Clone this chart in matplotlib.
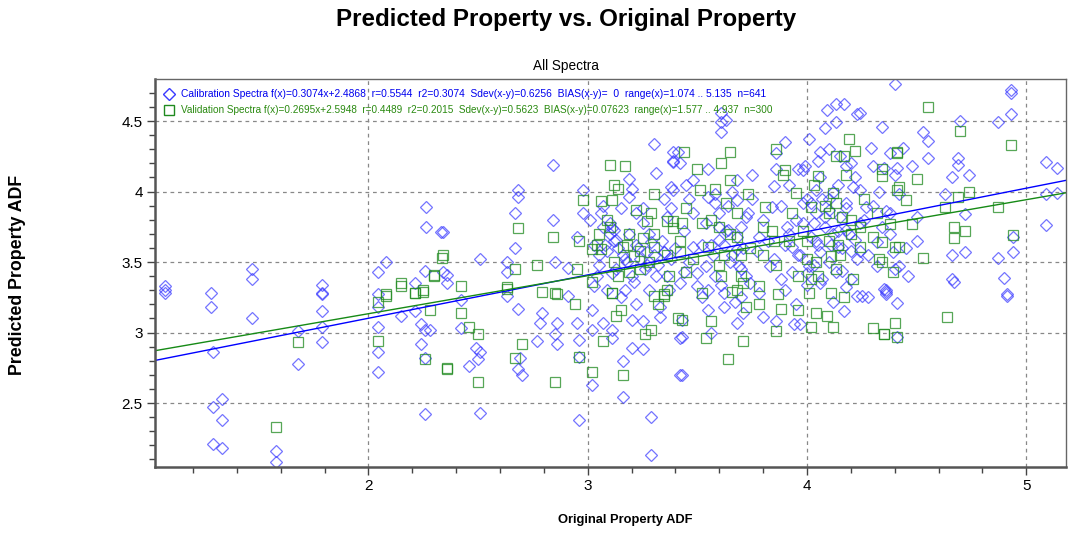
import matplotlib
matplotlib.use("Agg")
import matplotlib.pyplot as plt
from matplotlib.ticker import MultipleLocator

plt.rcParams['font.family'] = ['Liberation Sans', 'DejaVu Sans']

# fit lines as printed in the legend
cal_slope, cal_icept = 0.3074, 2.4868
val_slope, val_icept = 0.2695, 2.5948

# calibration spectra
cal_x = [1.07, 1.07, 1.07, 1.28, 1.28, 1.47, 1.47, 1.47, 1.29, 1.33, 1.29, 1.33, 1.29, 1.33,
         1.58, 1.58, 1.68, 1.68, 1.79, 1.79, 1.79, 1.79, 1.79, 1.79, 2.045, 2.045, 2.045, 2.045,
         2.045, 2.045, 2.081, 2.15, 2.21, 2.21, 2.24, 2.24, 2.26, 2.26, 2.26, 2.26, 2.263, 2.263,
         2.28, 2.331, 2.34, 2.36, 2.34, 2.36, 2.42, 2.42, 2.46, 2.49, 2.50, 2.51, 2.51, 2.51,
         2.63, 2.63, 2.63, 2.67, 2.67, 2.68, 2.68, 2.68, 2.68, 2.69, 2.70, 2.77, 2.78, 2.79,
         2.84, 2.84, 2.85, 2.85, 2.86, 2.86, 2.91, 2.91, 2.95, 2.95, 2.96, 2.96, 2.96, 2.98,
         2.98, 3.02, 3.02, 3.02, 3.06, 3.07, 3.10, 3.11, 3.11, 3.11, 3.16, 3.16, 3.19, 3.19,
         3.20, 3.20, 3.20, 3.25, 3.25, 3.29, 3.29, 3.30, 3.31, 3.33, 3.35, 3.35, 3.36, 3.37,
         3.38, 3.39, 3.39, 3.39, 3.39, 3.41, 3.42, 3.42, 3.42, 3.43, 3.43, 3.43, 3.44, 3.48,
         3.48, 3.50, 3.54, 3.54, 3.55, 3.55, 3.55, 3.56, 3.60, 3.61, 3.61, 3.61, 3.61, 3.63,
         3.64, 3.68, 3.68, 3.68, 3.68, 3.69, 3.71, 3.73, 3.78, 3.78, 3.80, 3.83, 3.84, 3.85,
         3.86, 3.86, 3.86, 3.90, 3.90, 3.91, 3.93, 3.93, 3.94, 3.96, 3.97, 3.98, 4.00, 4.01,
         4.01, 4.03, 4.04, 4.06, 4.06, 4.07, 4.08, 4.09, 4.10, 4.13, 4.13, 4.13, 4.14, 4.17,
         4.17, 4.18, 4.18, 4.18, 4.21, 4.23, 4.23, 4.24, 4.24, 4.24, 4.25, 4.27, 4.29, 4.30,
         4.32, 4.33, 4.34, 4.34, 4.35, 4.35, 4.36, 4.36, 4.36, 4.38, 4.38, 4.39, 4.40, 4.40,
         4.40, 4.41, 4.41, 4.41, 4.42, 4.42, 4.44, 4.45, 4.46, 4.48, 4.50, 4.50, 4.53, 4.55,
         4.55, 4.63, 4.66, 4.66, 4.66, 4.67, 4.69, 4.69, 4.70, 4.72, 4.72, 4.74, 4.87, 4.87,
         4.90, 4.91, 4.91, 4.93, 4.93, 4.93, 4.94, 4.94, 5.09, 5.09, 5.09, 5.14, 5.14,
         # dense middle cloud
         3.10, 3.12, 3.14, 3.16, 3.18, 3.13, 3.20, 3.22, 3.24, 3.26, 3.28, 3.30, 3.32, 3.34,
         3.36, 3.38, 3.40, 3.42, 3.44, 3.46, 3.48, 3.50, 3.52, 3.05, 3.08, 3.04, 3.09, 3.15,
         3.22, 3.28, 3.33, 3.38, 3.46, 3.52, 3.57, 3.60, 3.62, 3.65, 3.70, 3.72, 3.75, 3.77,
         3.80, 3.82, 3.85, 3.88, 3.90, 3.92, 3.95, 3.97, 4.00, 4.02, 4.04, 4.05, 4.06, 4.08,
         4.10, 4.12, 4.14, 4.15, 4.16, 4.18, 4.20, 4.22, 4.26, 4.28, 4.30, 4.32, 4.36, 4.38,
         4.05, 4.10, 3.98, 3.92, 3.75, 3.66, 3.58, 3.45, 3.35, 3.25, 3.70, 3.88, 3.95, 4.12,
         4.20, 4.28, 3.62, 3.55,
         3.01, 3.03, 3.05, 3.07, 3.09, 3.11, 3.13, 3.15, 3.17, 3.19, 3.21, 3.23, 3.25, 3.27,
         3.29, 3.31, 3.03, 3.07, 3.12, 3.17, 3.22, 3.27,
         3.56, 3.58, 3.60, 3.62, 3.64, 3.66, 3.68, 3.70, 3.72, 3.74, 3.58, 3.63, 3.67, 3.71,
         3.96, 3.98, 4.00, 4.02, 4.04, 4.06, 4.08, 4.10, 4.12, 4.14, 4.16, 4.18, 4.20, 4.22,
         4.24, 3.99, 4.03, 4.07, 4.11, 4.15, 4.19, 4.23]
cal_y = [3.33, 3.28, 3.30, 3.28, 3.18, 3.45, 3.38, 3.10, 2.86, 2.53, 2.47, 2.38, 2.21, 2.18,
         2.16, 2.08, 3.01, 2.78, 3.34, 3.28, 3.27, 3.15, 3.04, 2.93, 3.43, 3.27, 3.18, 3.04,
         2.86, 2.72, 3.50, 3.12, 3.35, 3.15, 3.06, 2.92, 3.44, 2.82, 3.02, 2.42, 3.894, 3.75,
         3.02, 3.71, 3.43, 3.35, 3.71, 3.41, 3.23, 3.03, 2.76, 2.89, 2.81, 2.86, 2.43, 3.52,
         3.50, 3.43, 3.26, 3.85, 3.60, 4.01, 3.96, 3.17, 2.74, 2.82, 2.70, 2.94, 3.07, 3.14,
         4.19, 3.80, 3.50, 2.99, 3.07, 2.92, 3.46, 3.26, 3.68, 3.07, 2.95, 2.83, 2.38, 4.01,
         3.85, 3.16, 3.02, 2.63, 3.85, 3.07, 3.78, 3.74, 3.02, 2.96, 2.80, 2.54, 4.09, 3.96,
         4.02, 3.09, 2.89, 3.08, 2.88, 2.40, 2.13, 4.34, 4.13, 3.11, 3.57, 3.57, 3.82, 3.30,
         4.03, 4.21, 4.01, 4.28, 4.22, 4.28, 4.20, 2.70, 2.96, 2.70, 2.97, 3.09, 3.43, 3.61,
         4.08, 3.33, 3.78, 3.47, 3.16, 4.16, 3.96, 3.00, 3.66, 3.34, 4.56, 4.49, 4.42, 4.51,
         3.73, 3.07, 4.08, 3.94, 3.59, 3.47, 3.14, 3.85, 3.28, 3.68, 3.11, 3.47, 3.89, 4.04,
         4.16, 4.27, 3.08, 3.30, 4.35, 3.75, 3.43, 3.61, 3.06, 4.16, 3.06, 3.92, 3.34, 3.47,
         4.37, 3.78, 4.01, 4.28, 3.57, 3.38, 4.45, 4.58, 3.87, 3.43, 4.62, 4.49, 3.61, 4.62,
         3.15, 3.32, 4.18, 3.73, 4.03, 4.55, 3.26, 4.56, 4.01, 3.58, 3.26, 3.89, 4.31, 4.18,
         3.47, 4.00, 3.75, 4.46, 4.17, 3.31, 3.29, 3.27, 3.30, 3.85, 4.27, 3.57, 4.12, 3.45,
         4.76, 4.17, 3.21, 2.97, 3.47, 3.98, 4.31, 3.60, 3.40, 4.18, 3.82, 3.65, 4.42, 4.36,
         4.24, 3.98, 4.10, 3.55, 3.38, 3.36, 4.19, 4.24, 4.50, 3.84, 3.57, 4.12, 4.49, 3.53,
         3.39, 3.27, 3.26, 4.70, 4.55, 4.72, 3.57, 3.68, 4.21, 3.98, 3.76, 4.17, 3.99,
         # dense middle cloud
         3.70, 3.65, 3.60, 3.55, 3.50, 3.45, 3.40, 3.62, 3.52, 3.45, 3.70, 3.55, 3.48, 3.65,
         3.40, 3.52, 3.60, 3.35, 3.72, 3.50, 3.85, 3.42, 3.62, 3.55, 3.62, 3.40, 3.30, 3.25,
         3.20, 3.30, 3.18, 3.88, 3.95, 3.25, 3.55, 3.85, 3.62, 3.50, 3.75, 3.40, 3.95, 3.58,
         3.80, 3.65, 3.52, 3.90, 3.62, 3.70, 3.80, 3.55, 3.95, 3.68, 3.85, 3.62, 4.10, 3.75,
         3.95, 3.70, 4.05, 3.82, 3.60, 3.92, 4.20, 3.66, 3.80, 3.55, 3.90, 3.64, 3.86, 3.70,
         4.22, 4.30, 4.15, 4.05, 4.12, 4.00, 3.92, 4.05, 3.95, 3.88, 3.25, 3.38, 3.20, 3.22,
         3.38, 3.25, 3.18, 3.30,
         3.80, 3.62, 3.48, 3.75, 3.58, 3.42, 3.66, 3.88, 3.52, 3.70, 3.36, 3.60, 3.78, 3.48,
         3.64, 3.40, 3.33, 3.90, 3.73, 3.30, 3.85, 3.57,
         3.62, 3.40, 3.75, 3.28, 3.90, 3.55, 3.68, 3.45, 3.82, 3.35, 3.98, 3.72, 3.22, 3.60,
         3.55, 3.78, 3.42, 3.92, 3.65, 3.35, 3.82, 3.50, 4.00, 3.72, 3.44, 3.88, 3.58, 4.10,
         3.78, 4.18, 3.48, 3.95, 3.62, 4.25, 3.70, 3.52]

# validation spectra
val_x = [1.58, 1.68, 2.045, 2.045, 2.08, 2.08, 2.15, 2.15, 2.21, 2.21, 2.25, 2.25, 2.26,
         2.28, 2.30, 2.30, 2.336, 2.34, 2.36, 2.36, 2.42, 2.42, 2.46, 2.50, 2.50, 2.63, 2.63,
         2.67, 2.67, 2.68, 2.70, 2.77, 2.79, 2.84, 2.85, 2.85, 2.86, 2.94, 2.95, 2.96, 2.96,
         2.98, 3.02, 3.02, 3.02, 3.06, 3.06, 3.07, 3.10, 3.10, 3.11, 3.11, 3.11, 3.12, 3.13,
         3.14, 3.15, 3.16, 3.16, 3.17, 3.19, 3.21, 3.22, 3.25, 3.26, 3.27, 3.29, 3.30, 3.30,
         3.30, 3.32, 3.35, 3.35, 3.36, 3.36, 3.37, 3.39, 3.39, 3.41, 3.42, 3.43, 3.43, 3.44,
         3.45, 3.50, 3.51, 3.52, 3.52, 3.54, 3.55, 3.56, 3.60, 3.61, 3.61, 3.64, 3.65, 3.65,
         3.66, 3.68, 3.71, 3.71, 3.72, 3.73, 3.78, 3.78, 3.81, 3.84, 3.86, 3.86, 3.87, 3.88,
         3.89, 3.93, 3.95, 3.96, 4.00, 4.01, 4.02, 4.02, 4.02, 4.04, 4.05, 4.09, 4.11, 4.11,
         4.12, 4.12, 4.13, 4.13, 4.16, 4.17, 4.17, 4.19, 4.21, 4.22, 4.24, 4.24, 4.30, 4.30,
         4.33, 4.34, 4.34, 4.34, 4.34, 4.35, 4.35, 4.38, 4.39, 4.40, 4.40, 4.41, 4.41, 4.41,
         4.41, 4.42, 4.42, 4.45, 4.48, 4.50, 4.53, 4.55, 4.63, 4.64, 4.67, 4.67, 4.69, 4.70,
         4.72, 4.74, 4.87, 4.93, 4.94,
         3.05, 3.12, 3.18, 3.24, 3.30, 3.36, 3.42, 3.48, 3.56, 3.62, 3.68, 3.74, 3.80, 3.86,
         3.92, 3.98, 4.04, 4.08, 4.14, 4.20, 4.26, 4.32, 3.90, 3.58, 3.45, 4.18, 3.70, 3.96,
         4.10, 3.28,
         3.04, 3.09, 3.14, 3.19, 3.24, 3.29, 3.60, 3.65, 3.70, 3.63, 3.68, 4.00, 4.05, 4.10,
         4.15, 4.20, 4.03, 4.13, 3.80, 3.85]
val_y = [2.33, 2.93, 2.94, 3.22, 3.26, 3.27, 3.33, 3.35, 3.28, 3.28, 3.29, 3.30, 2.81,
         3.16, 3.40, 3.41, 3.53, 3.55, 2.74, 2.75, 3.33, 3.14, 3.04, 2.99, 2.65, 3.31, 3.32,
         3.45, 2.82, 3.74, 2.92, 3.48, 3.29, 3.68, 3.28, 2.65, 3.27, 3.20, 3.45, 3.65, 2.83,
         3.94, 3.59, 3.36, 2.72, 3.93, 3.59, 2.94, 4.19, 3.75, 3.94, 3.28, 3.28, 4.05, 3.12,
         4.02, 3.16, 3.61, 2.70, 4.18, 3.43, 3.54, 3.87, 3.67, 2.99, 3.79, 3.02, 3.98, 3.61,
         3.26, 3.20, 3.27, 3.26, 3.30, 3.79, 3.40, 3.79, 3.74, 3.10, 3.57, 3.09, 3.78, 4.28,
         3.43, 4.16, 4.01, 3.78, 3.28, 2.96, 3.61, 3.08, 3.75, 4.20, 3.40, 2.81, 4.28, 4.08,
         3.29, 3.68, 2.94, 3.35, 3.18, 3.98, 3.20, 3.33, 3.89, 3.72, 4.30, 3.01, 3.27, 3.17,
         4.12, 3.85, 3.99, 3.16, 3.52, 3.28, 3.89, 3.38, 3.04, 3.14, 4.11, 3.12, 3.54, 3.28,
         3.99, 3.04, 4.25, 3.45, 3.82, 4.25, 3.25, 4.37, 3.38, 4.29, 3.75, 3.61, 3.68, 3.03,
         3.52, 4.16, 3.64, 4.11, 3.50, 2.99, 2.99, 3.77, 3.43, 3.07, 3.61, 4.28, 4.27, 2.97,
         4.01, 4.03, 3.61, 3.94, 3.77, 4.09, 3.53, 4.60, 3.89, 3.11, 3.75, 3.67, 3.96, 4.43,
         3.72, 4.00, 3.89, 4.33, 3.69,
         3.70, 3.50, 3.62, 3.45, 3.70, 3.55, 3.65, 3.52, 3.80, 3.55, 3.85, 3.60, 3.75, 3.48,
         3.65, 3.72, 3.50, 3.90, 3.62, 3.80, 3.95, 3.85, 4.15, 4.02, 3.88, 4.12, 3.40, 3.40,
         3.65, 3.50,
         3.62, 3.80, 3.40, 3.70, 3.58, 3.85, 3.48, 3.70, 3.55, 3.92, 3.30, 3.65, 3.40, 3.85,
         3.55, 3.70, 4.05, 3.92, 3.55, 3.65]

x_ticks = [2, 3, 4, 5]
y_ticks = [2.5, 3, 3.5, 4, 4.5]
y_tick_labels = ['2.5', '3', '3.5', '4', '4.5']

fig = plt.figure(figsize=(10.7, 5.35), dpi=100)
ax = fig.add_axes([0.145, 0.128, 0.851, 0.724])

ax.plot(cal_x, cal_y, linestyle='none', marker='D', markersize=6, markerfacecolor='none',
        markeredgecolor='#3a3aff', markeredgewidth=0.9, alpha=0.7)
ax.plot(val_x, val_y, linestyle='none', marker='s', markersize=7.2, markerfacecolor='none',
        markeredgecolor='#1f8a1f', markeredgewidth=0.9, alpha=0.75)

xmin, xmax = 1.027, 5.18
ax.plot([xmin, xmax], [cal_slope * xmin + cal_icept, cal_slope * xmax + cal_icept],
        color='#0000ff', lw=1.0)
ax.plot([xmin, xmax], [val_slope * xmin + val_icept, val_slope * xmax + val_icept],
        color='#168a16', lw=1.0)

ax.set_xlim(xmin, xmax)
ax.set_ylim(2.05, 4.797)
ax.set_xticks(x_ticks)
ax.set_yticks(y_ticks)
ax.set_yticklabels(y_tick_labels)
ax.xaxis.set_minor_locator(MultipleLocator(0.2))
ax.yaxis.set_minor_locator(MultipleLocator(0.1))
ax.tick_params(which='major', length=6, width=1, color='#444444', labelsize=11, pad=3)
ax.tick_params(which='minor', length=4, width=1, color='#444444')
ax.grid(True, which='major', linestyle=(0, (3, 3)), color='#888888', lw=0.9)

for side in ['top', 'right']:
    ax.spines[side].set_color('#666666')
    ax.spines[side].set_linewidth(1.0)
for side in ['bottom', 'left']:
    ax.spines[side].set_color('#555555')
    ax.spines[side].set_linewidth(1.8)

# legend written inside the plot, like the original
ax.plot([0.015], [0.963], transform=ax.transAxes, marker='D', markersize=6,
        markerfacecolor='none', markeredgecolor='#3a3aff', linestyle='none', clip_on=False)
ax.plot([0.015], [0.921], transform=ax.transAxes, marker='s', markersize=7.2,
        markerfacecolor='none', markeredgecolor='#1f8a1f', linestyle='none', clip_on=False)
ax.text(0.028, 0.963,
        'Calibration Spectra f(x)=0.3074x+2.4868  r=0.5544  r2=0.3074  Sdev(x-y)=0.6256  '
        'BIAS(x-y)=  0  range(x)=1.074 .. 5.135  n=641',
        transform=ax.transAxes, color='#0000ee', fontsize=7.4, va='center')
ax.text(0.028, 0.921,
        'Validation Spectra f(x)=0.2695x+2.5948  r=0.4489  r2=0.2015  Sdev(x-y)=0.5623  '
        'BIAS(x-y)=0.07623  range(x)=1.577 .. 4.937  n=300',
        transform=ax.transAxes, color='#2a8a10', fontsize=7.2, va='center')

fig.text(0.529, 0.963, 'Predicted Property vs. Original Property', ha='center', va='center',
         fontsize=17.4, fontweight='bold')
fig.text(0.529, 0.876, 'All Spectra', ha='center', va='center', fontsize=9.8)
fig.text(0.584, 0.028, 'Original Property ADF', ha='center', va='center',
         fontsize=9.3, fontweight='bold')
fig.text(0.016, 0.487, 'Predicted Property ADF', ha='center', va='center', rotation=90,
         fontsize=12.8, fontweight='bold')

fig.savefig('out.png', dpi=100)
